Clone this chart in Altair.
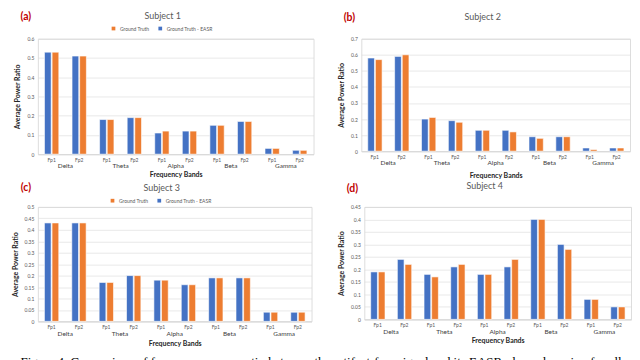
import altair as alt
import pandas as pd

bands = ["Delta", "Theta", "Alpha", "Beta", "Gamma"]
electrodes = ["Fp1", "Fp2"]
series = ["Ground Truth", "Ground Truth - EASR"]
colors = ["#ED7D31", "#4472C4"]

# values ordered Delta Fp1, Delta Fp2, Theta Fp1, ... Gamma Fp2
s1_easr = [0.53, 0.51, 0.18, 0.19, 0.11, 0.12, 0.15, 0.17, 0.03, 0.02]
s1_gt   = [0.53, 0.51, 0.18, 0.19, 0.12, 0.12, 0.15, 0.17, 0.03, 0.02]
s2_easr = [0.58, 0.59, 0.20, 0.19, 0.13, 0.13, 0.09, 0.09, 0.02, 0.02]
s2_gt   = [0.57, 0.60, 0.21, 0.18, 0.13, 0.12, 0.08, 0.09, 0.01, 0.02]
s3_easr = [0.43, 0.43, 0.17, 0.20, 0.18, 0.16, 0.19, 0.19, 0.04, 0.04]
s3_gt   = [0.43, 0.43, 0.17, 0.20, 0.18, 0.16, 0.19, 0.19, 0.04, 0.04]
s4_easr = [0.19, 0.24, 0.18, 0.21, 0.18, 0.21, 0.40, 0.30, 0.08, 0.05]
s4_gt   = [0.19, 0.22, 0.17, 0.22, 0.18, 0.24, 0.40, 0.28, 0.08, 0.05]

y_ticks_1 = [0, 0.1, 0.2, 0.3, 0.4, 0.5, 0.6]
y_ticks_2 = [0, 0.1, 0.2, 0.3, 0.4, 0.5, 0.6, 0.7]
y_ticks_3 = [0, 0.05, 0.1, 0.15, 0.2, 0.25, 0.3, 0.35, 0.4, 0.45, 0.5]
y_ticks_4 = [0, 0.05, 0.1, 0.15, 0.2, 0.25, 0.3, 0.35, 0.4, 0.45]

caption = ("Figure 4. Comparison of frequency power ratio between the artifact-free "
           "signal and its EASR-cleaned version for all")

FONT = "Lato"
keys = [f"{b} {e}" for b in bands for e in electrodes]
PAD_IN = 0.48
PAD_OUT = 0.24


def panel(letter, title, easr, gt, ticks, w, h, band_dy, title_pad,
          letter_dy, title_dy, legend_dy):
    rows = []
    for i, k in enumerate(keys):
        rows.append({"key": k, "series": "Ground Truth - EASR", "value": easr[i]})
        rows.append({"key": k, "series": "Ground Truth", "value": gt[i]})
    df = pd.DataFrame(rows)
    xscale = alt.Scale(domain=keys, paddingInner=PAD_IN, paddingOuter=PAD_OUT)
    xaxis = alt.Axis(title="Frequency Bands", labelAngle=0,
                     labelExpr="slice(datum.label, -3)",
                     labelFontSize=5, labelColor="#595959",
                     labelFont=FONT, labelPadding=3,
                     ticks=False, domainColor="#d9d9d9",
                     titleFont=FONT, titleFontSize=7,
                     titleFontWeight="bold", titleColor="#262626",
                     titlePadding=title_pad)
    bars = alt.Chart(df).mark_bar(stroke="white", strokeWidth=0.6).encode(
        x=alt.X("key:N", scale=xscale, sort=keys, axis=xaxis),
        xOffset=alt.XOffset("series:N", sort=["Ground Truth - EASR", "Ground Truth"],
                            scale=alt.Scale(paddingInner=0.12)),
        y=alt.Y("value:Q", scale=alt.Scale(domain=[ticks[0], ticks[-1]], nice=False),
                axis=alt.Axis(title="Average Power Ratio", values=ticks,
                              format=".2~f", labelFontSize=5,
                              labelColor="#595959", labelFont=FONT,
                              labelPadding=4, ticks=False, domain=False,
                              gridColor="#d9d9d9", gridWidth=0.6,
                              titleFont=FONT, titleFontSize=7,
                              titleFontWeight="bold", titleColor="#262626",
                              titlePadding=6)),
        color=alt.Color("series:N", scale=alt.Scale(domain=series, range=colors),
                        legend=alt.Legend(title=None, orient="none",
                                          direction="horizontal",
                                          legendX=w / 2 - 65,
                                          legendY=legend_dy - 3,
                                          labelFontSize=5, labelColor="#595959",
                                          labelFont=FONT, symbolType="square",
                                          symbolSize=14, columnPadding=8,
                                          symbolStrokeWidth=0)),
    )
    lab_df = pd.DataFrame({"key": [f"{b} Fp1" for b in bands], "band": bands})
    band_text = alt.Chart(lab_df).mark_text(
        fontSize=6.5, font=FONT, color="#404040", baseline="middle",
        dx=w / 10 * PAD_IN / 2
    ).encode(
        x=alt.X("key:N", scale=xscale, sort=keys, bandPosition=1, axis=xaxis),
        y=alt.value(h + band_dy),
        text="band:N",
    )
    lt_df = pd.DataFrame({"t": [letter], "s": [title]})
    letter_text = alt.Chart(lt_df).mark_text(
        fontSize=10.5, font=FONT, fontWeight="bold", color="#C00000",
        align="center", baseline="middle"
    ).encode(x=alt.value(-12), y=alt.value(letter_dy), text="t:N")
    title_text = alt.Chart(lt_df).mark_text(
        fontSize=9, font=FONT, color="#595959",
        align="center", baseline="middle"
    ).encode(x=alt.value(w / 2 - 13), y=alt.value(title_dy), text="s:N")
    return alt.layer(bars, band_text, letter_text, title_text).properties(
        width=w, height=h,
    )


pa = panel("(a)", "Subject 1", s1_easr, s1_gt, y_ticks_1, 277, 116, 12, 8, -22, -23, -10)
pb = panel("(b)", "Subject 2", s2_easr, s2_gt, y_ticks_2, 270, 113, 12, 12, -21, -22, -10)
pc = panel("(c)", "Subject 3", s3_easr, s3_gt, y_ticks_3, 275, 115, 13, 10, -19, -19, -6)
pd_ = panel("(d)", "Subject 4", s4_easr, s4_gt, y_ticks_4, 268, 113, 13, 9, -18, -21, -8)

row1 = alt.hconcat(pa, pb, spacing=22)
row2 = alt.hconcat(pc, pd_, spacing=24)
chart = alt.vconcat(row1, row2, spacing=2).resolve_scale(
    color="independent"
).resolve_legend(color="independent").properties(
    padding={"left": 2, "top": 2, "right": 0, "bottom": 0},
    title=alt.TitleParams(caption, orient="bottom", anchor="middle",
                          font="Liberation Serif", fontSize=13,
                          fontWeight="normal", color="#000000", offset=9),
).configure_view(stroke=None).configure(background="white")

chart.save("out.html", embed_options={"renderer": "svg", "actions": False})
